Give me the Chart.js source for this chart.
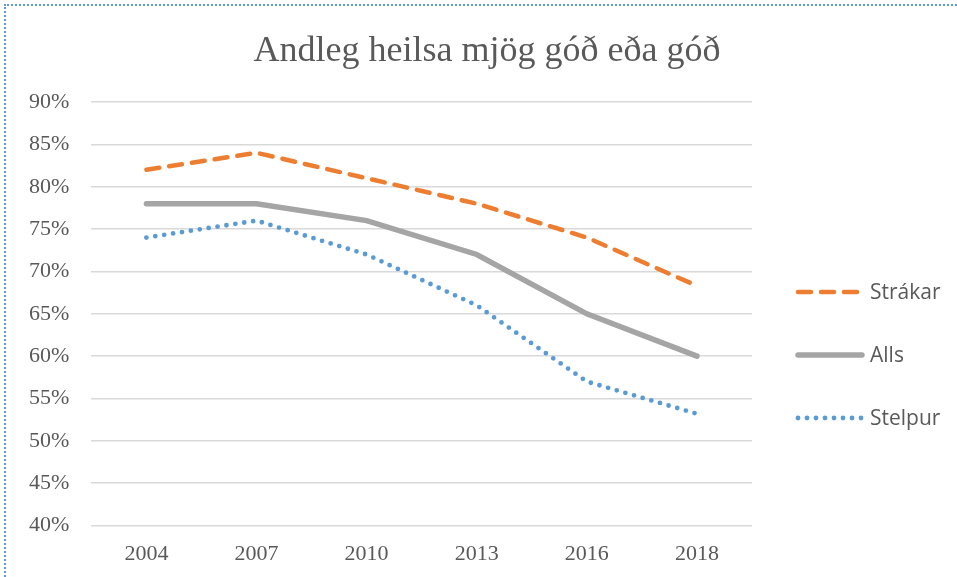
<!DOCTYPE html>
<html>
<head>
<meta charset="utf-8">
<script src="https://cdn.jsdelivr.net/npm/chart.js@4"></script>
<style>
    body { margin: 0; background: #fff; }
    #frame {
        position: absolute; left: 4px; top: 4px;
        width: 1100px; height: 700px;
        border: 2px dotted #5b9bd5;
    }
    #wrap { position: absolute; left: 0; top: 0; width: 957px; height: 577px; }
</style>
</head>
<body>
<div id="frame"></div>
<div id="wrap"><canvas id="heilsaChart"></canvas></div>
<script>
const chartTitle = "Andleg heilsa mjög góð eða góð";
const years = ["2004", "2007", "2010", "2013", "2016", "2018"];
const strakar = [82, 84, 81, 78, 74, 68.3];
const alls = [78, 78, 76, 72, 65, 60];
const stelpur = [74, 76, 72, 66, 57, 53.2];

// title centred on the whole picture, legend on the right with the series line styles
const extras = {
    id: "extras",
    afterDraw(chart) {
        const ctx = chart.ctx;
        ctx.save();
        ctx.fillStyle = "#595959";
        ctx.font = "36px 'Liberation Serif'";
        ctx.textAlign = "center";
        ctx.textBaseline = "middle";
        ctx.fillText(chartTitle, 487, 52);

        const rows = [292, 355, 418];
        ctx.textAlign = "left";
        chart.data.datasets.forEach((ds, i) => {
            const y = rows[i];
            ctx.beginPath();
            ctx.strokeStyle = ds.borderColor;
            ctx.lineWidth = ds.borderWidth;
            ctx.lineCap = ds.borderCapStyle;
            ctx.setLineDash(ds.borderDash || []);
            ctx.moveTo(798, y);
            ctx.lineTo(862, y);
            ctx.stroke();
            ctx.setLineDash([]);
            ctx.fillStyle = "#595959";
            ctx.font = "21px 'Open Sans'";
            ctx.fillText(ds.label, 870, y + 1);
        });
        ctx.restore();
    }
};

new Chart(document.getElementById("heilsaChart"), {
    type: "line",
    data: {
        labels: years,
        datasets: [
            {
                label: "Strákar",
                data: strakar,
                borderColor: "#ed7d31",
                borderWidth: 4.5,
                borderDash: [13, 10],
                borderCapStyle: "round",
                pointRadius: 0
            },
            {
                label: "Alls",
                data: alls,
                borderColor: "#a5a5a5",
                borderWidth: 5.5,
                borderCapStyle: "round",
                pointRadius: 0
            },
            {
                label: "Stelpur",
                data: stelpur,
                borderColor: "#5b9bd5",
                borderWidth: 4.8,
                borderDash: [0, 9],
                borderCapStyle: "round",
                pointRadius: 0
            }
        ]
    },
    options: {
        responsive: true,
        maintainAspectRatio: false,
        animation: false,
        layout: {
            padding: { left: 7, right: 205, top: 102, bottom: 3 }
        },
        plugins: {
            legend: { display: false },
            tooltip: { enabled: false },
            title: { display: false }
        },
        scales: {
            x: {
                offset: true,
                grid: { display: false },
                border: { display: false },
                ticks: {
                    color: "#595959",
                    padding: 7,
                    font: { family: "'Liberation Serif'", size: 22 }
                }
            },
            y: {
                min: 40,
                max: 90,
                border: { display: false },
                grid: { color: "#d9d9d9", lineWidth: 1.5, drawTicks: false },
                ticks: {
                    stepSize: 5,
                    color: "#595959",
                    padding: 22,
                    font: { family: "'Liberation Serif'", size: 22 },
                    callback: v => v + "%"
                }
            }
        }
    },
    plugins: [extras]
});
</script>
</body>
</html>
